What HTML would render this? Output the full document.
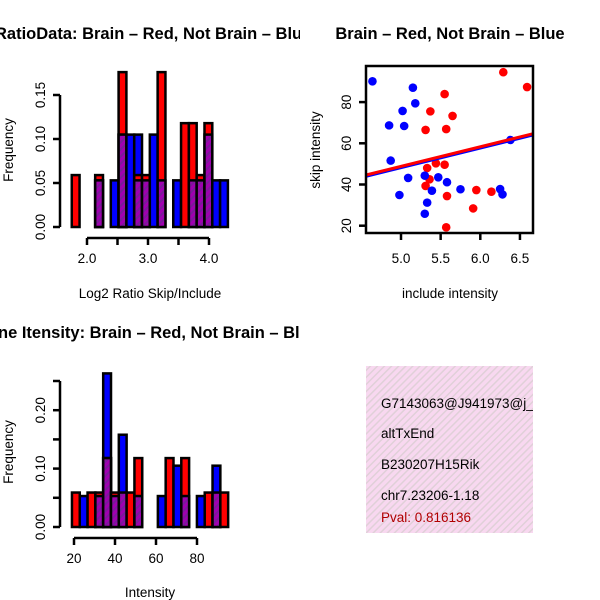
<!DOCTYPE html>
<html><head><meta charset="utf-8"><style>
body{margin:0;background:#fff}
svg{display:block;font-family:"Liberation Sans",Arial,sans-serif}
</style></head><body>
<svg id="s" width="600" height="600" viewBox="0 0 600 600">
<defs>
<pattern id="hatch" width="5" height="5" patternUnits="userSpaceOnUse" patternTransform="rotate(45)">
<rect width="5" height="5" fill="#a000b0"/><rect width="2" height="5" fill="#7a1a9a"/></pattern>
<pattern id="pinkhatch" width="5" height="5" patternUnits="userSpaceOnUse" patternTransform="rotate(45)">
<rect width="5" height="5" fill="#f8d8f0"/><rect width="1.5" height="5" fill="#e0d0d8"/></pattern>
<clipPath id="leftclip"><rect x="0" y="0" width="300" height="600"/></clipPath>
<clipPath id="boxclip"><rect x="366" y="366" width="167" height="167"/></clipPath>
</defs>
<g clip-path="url(#leftclip)">
<text x="-5" y="39" font-size="16.5" font-weight="bold">RatioData: Brain – Red, Not Brain – Blue</text>
<text x="-2" y="338" font-size="16.5" font-weight="bold">ne Itensity: Brain – Red, Not Brain – Blue</text>
</g>
<text x="450" y="39" font-size="16.5" font-weight="bold" text-anchor="middle">Brain – Red, Not Brain – Blue</text>
<g id="h1"></g><g id="h2"></g><g id="sc"></g>
<rect x="366" y="366" width="167" height="167" fill="url(#pinkhatch)"/>
<g font-size="13.5" clip-path="url(#boxclip)">
<text x="381" y="408">G7143063@J941973@j_</text>
<text x="381" y="438">altTxEnd</text>
<text x="381" y="469">B230207H15Rik</text>
<text x="381" y="500">chr7.23206-1.18</text>
<text x="381" y="522" fill="#b00000">Pval: 0.816136</text>
</g>
</svg>
<script>
// Histogram 1 (log2 ratio)
const h1Start = 1.75, h1Width = 0.128;
const h1Red    = [0.059,0,0,0.059,0,0,0.176,0,0.059,0.059,0,0.176,0,0,0.118,0.118,0.059,0.118,0,0];
const h1Blue   = [0,0,0,0.053,0,0.053,0.105,0.105,0.105,0,0.105,0,0,0.053,0,0,0,0,0.053,0.053];
const h1Purple = [0,0,0,0.053,0,0,0.105,0,0.053,0.053,0,0.053,0,0,0,0.053,0.053,0.105,0,0];
const h1XTicks = [2.0,2.5,3.0,3.5,4.0];
const h1XLabels = ["2.0","","3.0","","4.0"];
const h1YTicks = [0,0.05,0.10,0.15];
const h1YLabels = ["0.00","0.05","0.10","0.15"];
// Histogram 2 (intensity)
const h2Start = 19.0, h2Width = 3.81;
const h2Red    = [0.059,0,0.059,0.059,0.118,0.059,0,0.059,0.118,0,0,0,0.118,0,0.118,0,0,0.059,0,0.059];
const h2Blue   = [0,0.053,0,0,0.263,0,0.158,0,0,0,0,0.053,0,0.105,0,0,0.053,0,0.105,0];
const h2Purple = [0,0,0,0.053,0.118,0.053,0.059,0,0.053,0,0,0,0,0,0.053,0,0,0,0.059,0];
const h2XTicks = [20,40,60,80];
const h2XLabels = ["20","40","60","80"];
const h2YTicks = [0,0.05,0.10,0.15,0.20,0.25];
const h2YLabels = ["0.00","","0.10","","0.20",""];
// Scatter
const blueX = [4.64,5.15,5.18,5.02,4.85,5.04,6.38,4.87,5.09,5.30,5.47,5.58,5.39,5.75,6.25,6.28,4.98,5.33,5.30];
const blueY = [90.1,87.0,79.4,75.7,68.7,68.4,61.6,51.6,43.2,44.3,43.5,41.1,37.0,37.7,37.8,35.2,34.9,31.2,25.8];
const redX = [6.29,6.59,5.55,5.37,5.65,5.31,5.57,5.33,5.44,5.55,5.36,5.31,5.58,5.95,6.14,5.91,5.57];
const redY = [94.5,87.3,83.9,75.5,73.3,66.5,66.9,48.0,50.3,49.6,42.5,39.3,34.4,37.3,36.5,28.4,19.2];
const redLine = [1.2, 9.52];   // intercept, slope
const blueLine = [0.6, 9.52];
const scXTicks = [5.0,5.5,6.0,6.5];
const scXLabels = ["5.0","5.5","6.0","6.5"];
const scYTicks = [20,40,60,80];
const scYLabels = ["20","40","60","80"];

const NS="http://www.w3.org/2000/svg";
const FS=13.5;
function mk(parent,tag,attrs,text){const e=document.createElementNS(NS,tag);for(const k in attrs)e.setAttribute(k,attrs[k]);if(text!==undefined)e.textContent=text;parent.appendChild(e);return e;}

function hist(g,o){
  const xs=v=>o.x0+(v-o.v0)*o.kx, ys=v=>o.y0-v*o.ky;
  for(let i=0;i<o.red.length;i++){
    const xl=xs(o.start+i*o.width), xr=xs(o.start+(i+1)*o.width);
    const series=[[o.red[i],'#ff0000','red'],[o.blue[i],'#0000ff','blue']].sort((a,b)=>b[0]-a[0]);
    series.push([o.purple[i],'url(#hatch)','overlap']);
    for(const [v,c,n] of series){
      if(v<=0)continue;
      const r=mk(g,'rect',{x:xl,y:ys(v),width:xr-xl,height:ys(0)-ys(v),fill:c,stroke:'#000','stroke-width':2.5});
      
      
    }
  }
  const ya=mk(g,'line',{x1:o.yAxisX,x2:o.yAxisX,y1:ys(o.yt[0]),y2:ys(o.yt[o.yt.length-1]),stroke:'#000','stroke-width':2.5});
  
  o.yt.forEach((t,i)=>{
    mk(g,'line',{x1:o.yAxisX-7,x2:o.yAxisX,y1:ys(t),y2:ys(t),stroke:'#000','stroke-width':2.5});
    if(o.yl[i]){const tx=mk(g,'text',{x:o.yAxisX-15,y:ys(t),'font-size':FS,'text-anchor':'middle',transform:`rotate(-90 ${o.yAxisX-15} ${ys(t)})`},o.yl[i]);
      }
  });
  const xa=mk(g,'line',{x1:xs(o.xt[0]),x2:xs(o.xt[o.xt.length-1]),y1:o.xAxisY,y2:o.xAxisY,stroke:'#000','stroke-width':2.5});
  
  o.xt.forEach((t,i)=>{
    mk(g,'line',{x1:xs(t),x2:xs(t),y1:o.xAxisY,y2:o.xAxisY+7,stroke:'#000','stroke-width':2.5});
    if(o.xl[i]){const tx=mk(g,'text',{x:xs(t),y:o.xAxisY+25,'font-size':FS,'text-anchor':'middle'},o.xl[i]);
      }
  });
  const yt=mk(g,'text',{x:13,y:o.yTitleY,'font-size':FS,'text-anchor':'middle',transform:`rotate(-90 13 ${o.yTitleY})`},'Frequency');
  
  const xt=mk(g,'text',{x:150,y:o.xTitleY,'font-size':FS,'text-anchor':'middle'},o.xTitle);
  
}
hist(document.getElementById('h1'),{x0:87,v0:2.0,kx:61,y0:227,ky:880,start:h1Start,width:h1Width,red:h1Red,blue:h1Blue,purple:h1Purple,
  xt:h1XTicks,xl:h1XLabels,yt:h1YTicks,yl:h1YLabels,yAxisX:60,xAxisY:238,yTitleY:150,xTitleY:298,xTitle:'Log2 Ratio Skip/Include'});
hist(document.getElementById('h2'),{x0:74,v0:20,kx:2.05,y0:527,ky:584,start:h2Start,width:h2Width,red:h2Red,blue:h2Blue,purple:h2Purple,
  xt:h2XTicks,xl:h2XLabels,yt:h2YTicks,yl:h2YLabels,yAxisX:60,xAxisY:538,yTitleY:452,xTitleY:597,xTitle:'Intensity'});

// scatter
(function(){
  const g=document.getElementById('sc');
  const xs=v=>401+(v-5)*79.3, ys=v=>225.7-(v-20)*2.06;
  const ln=(p,c,name)=>{const x1=4.56,x2=6.66;
    const l=mk(g,'line',{x1:xs(x1),x2:xs(x2),y1:ys(p[0]+p[1]*x1),y2:ys(p[0]+p[1]*x2),stroke:c,'stroke-width':3});
    };
  redX.forEach((x,i)=>{const c=mk(g,'circle',{cx:xs(x),cy:ys(redY[i]),r:4.3,fill:'#ff0000'});
    });
  blueX.forEach((x,i)=>{const c=mk(g,'circle',{cx:xs(x),cy:ys(blueY[i]),r:4.3,fill:'#0000ff'});
    });
  ln(blueLine,'#0000ff','fit-line-blue');
  ln(redLine,'#ff0000','fit-line-red');
  const f=mk(g,'rect',{x:366,y:66,width:167,height:167,fill:'none',stroke:'#000','stroke-width':2.5});
  
  scYTicks.forEach((t,i)=>{mk(g,'line',{x1:359,x2:366,y1:ys(t),y2:ys(t),stroke:'#000','stroke-width':2.5});
    const tx=mk(g,'text',{x:351,y:ys(t),'font-size':FS,'text-anchor':'middle',transform:`rotate(-90 351 ${ys(t)})`},scYLabels[i]);
    });
  scXTicks.forEach((t,i)=>{mk(g,'line',{x1:xs(t),x2:xs(t),y1:233,y2:240,stroke:'#000','stroke-width':2.5});
    const tx=mk(g,'text',{x:xs(t),y:263,'font-size':FS,'text-anchor':'middle'},scXLabels[i]);
    });
  const yt=mk(g,'text',{x:320,y:150,'font-size':FS,'text-anchor':'middle',transform:'rotate(-90 320 150)'},'skip intensity');
  
  const xt=mk(g,'text',{x:450,y:298,'font-size':FS,'text-anchor':'middle'},'include intensity');
  
})();
</script>
</body></html>
